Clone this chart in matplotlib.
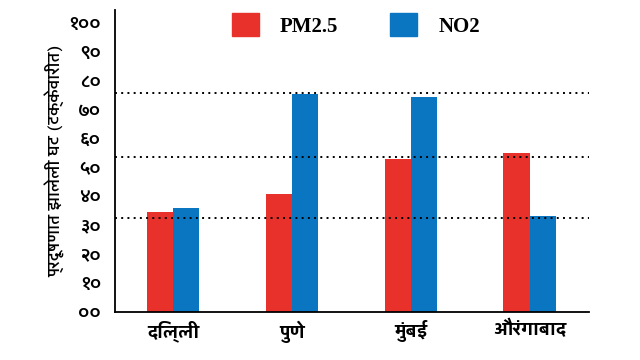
import matplotlib
matplotlib.use("Agg")
import matplotlib.pyplot as plt
import numpy as np
from matplotlib.patches import Patch

## Données
villes = ["दिल्ली", "पुणे", "मुंबई", "औरंगाबाद"]
pm25 = [34.6, 40.8, 52.9, 55.0]
no2 = [36.0, 75.4, 74.4, 33.2]
niveaux_ref = [32.5, 53.6, 75.8]  # lignes pointillées
yticks = [0, 10, 20, 30, 40, 50, 60, 70, 80, 90, 100]
ytick_labels = ["००", "१०", "२०", "३०", "४०", "५०", "६०", "७०", "८०", "९०", "१००"]
series = ["PM2.5", "NO2"]

rouge = "#E8312A"
bleu = "#0A76C2"
deva = ["Yantramanav", "Noto Sans Devanagari", "DejaVu Sans"]

fig = plt.figure(figsize=(6.4, 3.6), dpi=100)
ax = fig.add_axes([0.1797, 0.1333, 0.7406, 0.8389])

x = np.arange(len(villes))
w = 0.22
ax.bar(x - w/2, pm25, w, color=rouge, zorder=2)
ax.bar(x + w/2, no2, w, color=bleu, zorder=2)

for niv in niveaux_ref:
    ax.axhline(niv, color="black", linestyle=(0, (1, 2.2)), linewidth=1.4, zorder=3)

ax.set_xlim(-0.49, 3.5)
ax.set_ylim(0, 104.5)
ax.set_xticks(x)
ax.set_xticklabels(villes, family=deva, fontsize=14, fontweight="bold")
ax.set_yticks(yticks)
ax.set_yticklabels(ytick_labels, family=deva, fontsize=15, fontweight="medium")
ax.tick_params(length=0, pad=10)
ax.tick_params(axis="x", pad=6)

for s in ["top", "right"]:
    ax.spines[s].set_visible(False)
for s in ["left", "bottom"]:
    ax.spines[s].set_linewidth(1.3)

ax.set_ylabel("प्रदूषणात झालेली घट (टक्केवारीत)", family=deva, fontsize=12.5,
              fontweight="medium", labelpad=3)

poignees = [Patch(color=rouge), Patch(color=bleu)]
ax.legend(poignees, series, ncol=2, loc="center", bbox_to_anchor=(0.508, 0.95),
          frameon=False, prop={"family": "Liberation Serif", "weight": "bold", "size": 15},
          handlelength=1.3, handleheight=1.3, columnspacing=2.5, handletextpad=1.0)

plt.savefig("out.png", dpi=100)
